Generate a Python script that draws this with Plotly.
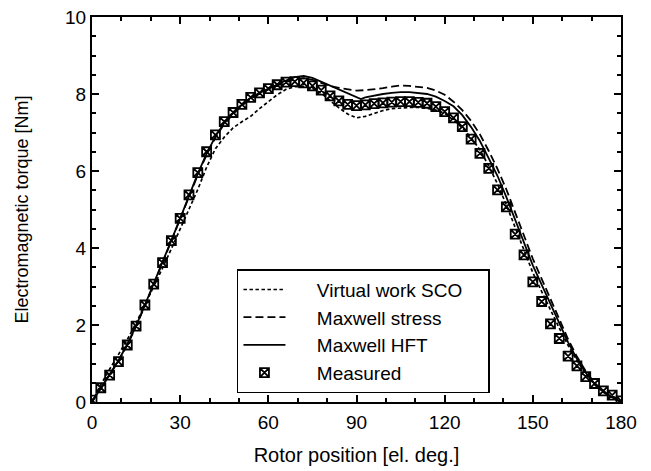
import plotly.graph_objects as go

# Measured (every 3 el. deg.)
meas_x = list(range(0, 181, 3))
meas_y = [0.05, 0.37, 0.70, 1.05, 1.48, 1.97, 2.52, 3.06, 3.62, 4.19,
          4.77, 5.38, 5.96, 6.50, 6.94, 7.28, 7.52, 7.73, 7.91, 8.03,
          8.14, 8.24, 8.31, 8.32, 8.29, 8.21, 8.10, 7.95, 7.82, 7.73,
          7.70, 7.72, 7.75, 7.77, 7.79, 7.80, 7.80, 7.78, 7.76, 7.67,
          7.54, 7.38, 7.15, 6.83, 6.46, 6.07, 5.51, 5.07, 4.36, 3.82,
          3.12, 2.61, 2.03, 1.65, 1.19, 0.94, 0.66, 0.48, 0.29, 0.18, 0.03]

# Maxwell HFT (solid)
hft_x = [0, 3, 6, 9, 12, 15, 18, 21, 24, 27, 30, 33, 36, 39, 42, 45, 48, 51, 54, 57,
         60, 63, 66, 69, 72, 75, 78, 81, 84, 87, 90, 91.5, 93, 96, 99, 102, 105, 108,
         111, 114, 117, 120, 123, 126, 129, 132, 135, 138, 141, 144, 147, 150, 153,
         156, 159, 162, 165, 168, 171, 174, 177, 180]
hft_y = [0.0, 0.36, 0.72, 1.08, 1.50, 1.98, 2.52, 3.07, 3.64, 4.20, 4.77, 5.37, 5.93,
         6.45, 6.90, 7.25, 7.50, 7.72, 7.90, 8.03, 8.14, 8.25, 8.35, 8.44, 8.47, 8.42,
         8.32, 8.22, 8.12, 8.02, 7.91, 7.87, 7.91, 7.96, 8.00, 8.03, 8.05, 8.05, 8.03,
         8.00, 7.93, 7.82, 7.68, 7.45, 7.14, 6.78, 6.33, 5.87, 5.32, 4.73, 4.10, 3.55,
         3.05, 2.55, 2.05, 1.55, 1.12, 0.76, 0.47, 0.27, 0.12, 0.0]

# Maxwell stress (long dash)
mst_x = [0, 3, 6, 9, 12, 15, 18, 21, 24, 27, 30, 33, 36, 39, 42, 45, 48, 51, 54, 57,
         60, 63, 66, 69, 72, 75, 78, 81, 84, 87, 90, 93, 96, 99, 102, 105, 108, 111,
         114, 117, 120, 123, 126, 129, 132, 135, 138, 141, 144, 147, 150, 153, 156,
         159, 162, 165, 168, 171, 174, 177, 180]
mst_y = [0.0, 0.35, 0.70, 1.06, 1.48, 1.96, 2.50, 3.05, 3.62, 4.18, 4.76, 5.35, 5.90,
         6.42, 6.87, 7.22, 7.48, 7.70, 7.88, 8.01, 8.12, 8.22, 8.31, 8.38, 8.41, 8.37,
         8.29, 8.21, 8.16, 8.12, 8.09, 8.10, 8.12, 8.15, 8.19, 8.22, 8.21, 8.19, 8.16,
         8.09, 7.98, 7.80, 7.58, 7.30, 6.95, 6.52, 6.05, 5.52, 4.93, 4.30, 3.72, 3.20,
         2.68, 2.15, 1.63, 1.18, 0.80, 0.50, 0.28, 0.12, 0.0]

# Virtual work SCO (short dash)
vw_x = mst_x
vw_y = [0.0, 0.45, 0.85, 1.22, 1.62, 2.05, 2.52, 3.00, 3.48, 3.98, 4.50, 5.00, 5.52,
        6.10, 6.58, 6.88, 7.12, 7.28, 7.42, 7.62, 7.80, 7.98, 8.12, 8.19, 8.20, 8.15,
        8.02, 7.83, 7.64, 7.48, 7.38, 7.42, 7.50, 7.57, 7.62, 7.64, 7.65, 7.65, 7.63,
        7.58, 7.50, 7.32, 7.12, 6.86, 6.55, 6.13, 5.66, 5.12, 4.54, 3.92, 3.36, 2.87,
        2.38, 1.92, 1.47, 1.08, 0.73, 0.45, 0.25, 0.11, 0.0]

x_ticks = [0, 30, 60, 90, 120, 150, 180]
y_ticks = [0, 2, 4, 6, 8, 10]

FONT = "Liberation Sans, Arial, sans-serif"
PAD = "\u00a0" * 5

fig = go.Figure()
fig.add_trace(go.Scatter(x=vw_x, y=vw_y, mode="lines",
                         name=PAD + "Virtual work SCO" + "\u00a0" * 4,
                         line=dict(color="black", width=1.7, dash="3.5px,2.5px")))
fig.add_trace(go.Scatter(x=mst_x, y=mst_y, mode="lines", name=PAD + "Maxwell stress",
                         line=dict(color="black", width=1.8, dash="8px,4px")))
fig.add_trace(go.Scatter(x=hft_x, y=hft_y, mode="lines", name=PAD + "Maxwell HFT",
                         line=dict(color="black", width=1.8)))
fig.add_trace(go.Scatter(x=meas_x, y=meas_y, mode="markers", name=PAD + "Measured",
                         marker=dict(symbol="square-x-open", size=9, color="black",
                                     line=dict(width=1.8, color="black"))))

axis_common = dict(showline=True, linecolor="black", linewidth=2, mirror="allticks",
                   ticks="inside", tickcolor="black", tickwidth=1.5, ticklen=7,
                   showgrid=False, zeroline=False, automargin=False,
                   tickfont=dict(family=FONT, size=19, color="black"))

fig.update_xaxes(range=[0, 180], tickvals=x_ticks,
                 minor=dict(dtick=10, ticks="inside", ticklen=4, tickcolor="black", tickwidth=1.5),
                 title=dict(text="Rotor position [el. deg.]", font=dict(family=FONT, size=20, color="black"),
                            standoff=16),
                 ticklabelstandoff=2,
                 **axis_common)
fig.update_yaxes(range=[0, 10], tickvals=y_ticks,
                 minor=dict(dtick=0.5, ticks="inside", ticklen=4, tickcolor="black", tickwidth=1.5),
                 title=dict(text="Electromagnetic torque [Nm]", font=dict(family=FONT, size=18, color="black"),
                            standoff=32),
                 **axis_common)

fig.update_layout(
    width=651, height=471,
    margin=dict(l=92, r=30, t=17, b=69),
    paper_bgcolor="white", plot_bgcolor="white",
    font=dict(family=FONT, color="black"),
    showlegend=True,
    legend=dict(x=0.274, y=0.345, xanchor="left", yanchor="top",
                bgcolor="white", bordercolor="black", borderwidth=1.5,
                font=dict(family=FONT, size=19, color="black"),
                itemwidth=42, tracegroupgap=0),
)

fig.write_html("out.html")
